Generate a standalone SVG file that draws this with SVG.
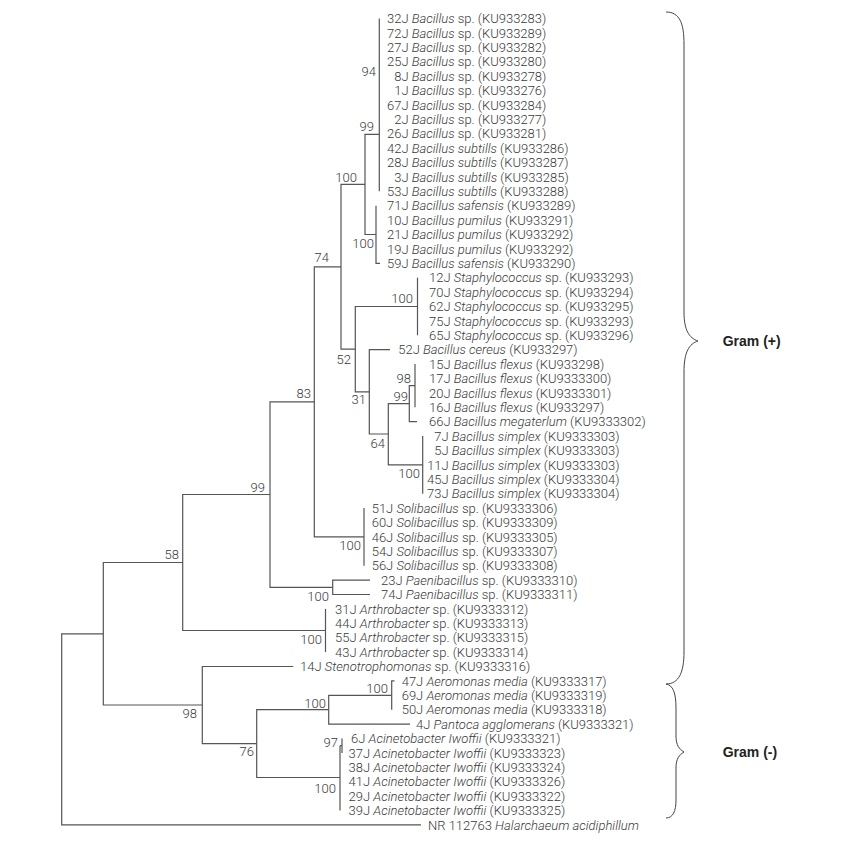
<svg xmlns="http://www.w3.org/2000/svg" width="849" height="846" viewBox="0 0 849 846">
<style>
.t{font-family:Roboto,"Liberation Sans",sans-serif;font-size:13px;font-weight:300;fill:#3a3a3a}
.i{font-style:italic}
.bs{font-family:Roboto,"Liberation Sans",sans-serif;font-size:13px;font-weight:300;fill:#3a3a3a;text-anchor:end}
.e{stroke:#555;stroke-width:1.2;fill:none}
.br{stroke:#444;stroke-width:1;fill:none}
.g{font-family:"Liberation Sans",Arial,sans-serif;font-size:14px;font-weight:bold;fill:#222}
</style>
<rect width="849" height="846" fill="#fff"/>
<g id="connectors">
<path class="e" d="M103.3,633.8 H61.7 V824.9 H421"/>
<path class="e" d="M182.7,562.5 H103.3 V705 H202.3"/>
<path class="e" d="M270,494.5 H182.7 V630.5 H325.5"/>
<path class="e" d="M325.5,608.9 V652.1"/>
<path class="e" d="M314.3,401.8 H270 V587.3 H332.7"/>
<path class="e" d="M370,580.1 H332.7 V594.5 H370"/>
<path class="e" d="M341,266.8 H314.3 V536.9 H364"/>
<path class="e" d="M364,508.1 V565.7"/>
<path class="e" d="M365,184.4 H341 V349.2 H355.3"/>
<path class="e" d="M379.3,134.3 H365 V234.5 H376"/>
<path class="e" d="M379.3,18.5 V191.3"/>
<path class="e" d="M376,205.7 V263.3 H380"/>
<path class="e" d="M417.5,306.5 H355.3 V391.9 H369.3"/>
<path class="e" d="M417.5,277.7 V335.3"/>
<path class="e" d="M390,349.7 H369.3 V434 H388.3"/>
<path class="e" d="M409.3,403.7 H388.3 V464.9 H422.7"/>
<path class="e" d="M422.7,436.1 V493.7"/>
<path class="e" d="M415,385.7 H409.3 V421.7 H417"/>
<path class="e" d="M415,364.1 V407.3"/>
<path class="e" d="M293.3,666.5 H202.3 V743.6 H256.7"/>
<path class="e" d="M328.7,709.7 H256.7 V777.5 H340"/>
<path class="e" d="M391.7,695.3 H328.7 V724.1 H410"/>
<path class="e" d="M394.5,680.9 H391.7 V709.7"/>
<path class="e" d="M340,745.7 V810.5 M340,745.7 H342 M342,738.5 V752.9"/>
</g>
<g id="bootstrap">
<text class="bs" x="376" y="76.3">94</text>
<text class="bs" x="374" y="130.5">99</text>
<text class="bs" x="357" y="182">100</text>
<text class="bs" x="374" y="248">100</text>
<text class="bs" x="329" y="261.5">74</text>
<text class="bs" x="351" y="363.5">52</text>
<text class="bs" x="413" y="303">100</text>
<text class="bs" x="366" y="404">31</text>
<text class="bs" x="411" y="383">98</text>
<text class="bs" x="408" y="401">99</text>
<text class="bs" x="385" y="448">64</text>
<text class="bs" x="420" y="478">100</text>
<text class="bs" x="311" y="397.5">83</text>
<text class="bs" x="361" y="549.5">100</text>
<text class="bs" x="265" y="491.5">99</text>
<text class="bs" x="329" y="600.5">100</text>
<text class="bs" x="179" y="558.5">58</text>
<text class="bs" x="322" y="643.5">100</text>
<text class="bs" x="197" y="717.5">98</text>
<text class="bs" x="254" y="756">76</text>
<text class="bs" x="326" y="707.5">100</text>
<text class="bs" x="388" y="693">100</text>
<text class="bs" x="338" y="747">97</text>
<text class="bs" x="336" y="793">100</text>
</g>
<g id="leaves">
<g id="n32J"><text class="t" x="387" y="23.1">32J <tspan class="i">Bacillus</tspan> sp. (KU933283)</text></g>
<g id="n72J"><text class="t" x="387" y="37.5">72J <tspan class="i">Bacillus</tspan> sp. (KU933289)</text></g>
<g id="n27J"><text class="t" x="387" y="51.9">27J <tspan class="i">Bacillus</tspan> sp. (KU933282)</text></g>
<g id="n25J"><text class="t" x="387" y="66.3">25J <tspan class="i">Bacillus</tspan> sp. (KU933280)</text></g>
<g id="n8J"><text class="t" x="394.3" y="80.7">8J <tspan class="i">Bacillus</tspan> sp. (KU933278)</text></g>
<g id="n1J"><text class="t" x="394.3" y="95.1">1J <tspan class="i">Bacillus</tspan> sp. (KU933276)</text></g>
<g id="n67J"><text class="t" x="387" y="109.5">67J <tspan class="i">Bacillus</tspan> sp. (KU933284)</text></g>
<g id="n2J"><text class="t" x="394.3" y="123.9">2J <tspan class="i">Bacillus</tspan> sp. (KU933277)</text></g>
<g id="n26J"><text class="t" x="387" y="138.3">26J <tspan class="i">Bacillus</tspan> sp. (KU933281)</text></g>
<g id="n42J"><text class="t" x="387" y="152.7">42J <tspan class="i">Bacillus subtills</tspan> (KU933286)</text></g>
<g id="n28J"><text class="t" x="387" y="167.1">28J <tspan class="i">Bacillus subtills</tspan> (KU933287)</text></g>
<g id="n3J"><text class="t" x="394.3" y="181.5">3J <tspan class="i">Bacillus subtills</tspan> (KU933285)</text></g>
<g id="n53J"><text class="t" x="387" y="195.9">53J <tspan class="i">Bacillus subtills</tspan> (KU933288)</text></g>
<g id="n71J"><text class="t" x="387" y="210.3">71J <tspan class="i">Bacillus safensis</tspan> (KU933289)</text></g>
<g id="n10J"><text class="t" x="387" y="224.7">10J <tspan class="i">Bacillus pumilus</tspan> (KU933291)</text></g>
<g id="n21J"><text class="t" x="387" y="239.1">21J <tspan class="i">Bacillus pumilus</tspan> (KU933292)</text></g>
<g id="n19J"><text class="t" x="387" y="253.5">19J <tspan class="i">Bacillus pumilus</tspan> (KU933292)</text></g>
<g id="n59J"><text class="t" x="387" y="267.9">59J <tspan class="i">Bacillus safensis</tspan> (KU933290)</text></g>
<g id="n12J"><text class="t" x="429" y="282.3">12J <tspan class="i">Staphylococcus</tspan> sp. (KU933293)</text></g>
<g id="n70J"><text class="t" x="429" y="296.7">70J <tspan class="i">Staphylococcus</tspan> sp. (KU933294)</text></g>
<g id="n62J"><text class="t" x="429" y="311.1">62J <tspan class="i">Staphylococcus</tspan> sp. (KU933295)</text></g>
<g id="n75J"><text class="t" x="429" y="325.5">75J <tspan class="i">Staphylococcus</tspan> sp. (KU933293)</text></g>
<g id="n65J"><text class="t" x="429" y="339.9">65J <tspan class="i">Staphylococcus</tspan> sp. (KU933296)</text></g>
<g id="n52J"><text class="t" x="398.3" y="354.3">52J <tspan class="i">Bacillus cereus</tspan> (KU933297)</text></g>
<g id="n15J"><text class="t" x="429" y="368.7">15J <tspan class="i">Bacillus flexus</tspan> (KU933298)</text></g>
<g id="n17J"><text class="t" x="429" y="383.1">17J <tspan class="i">Bacillus flexus</tspan> (KU9333300)</text></g>
<g id="n20J"><text class="t" x="429" y="397.5">20J <tspan class="i">Bacillus flexus</tspan> (KU9333301)</text></g>
<g id="n16J"><text class="t" x="429" y="411.9">16J <tspan class="i">Bacillus flexus</tspan> (KU933297)</text></g>
<g id="n66J"><text class="t" x="429" y="426.3">66J <tspan class="i">Bacillus megaterlum</tspan> (KU9333302)</text></g>
<g id="n7J"><text class="t" x="434.3" y="440.7">7J <tspan class="i">Bacillus simplex</tspan> (KU9333303)</text></g>
<g id="n5J"><text class="t" x="434.3" y="455.1">5J <tspan class="i">Bacillus simplex</tspan> (KU9333303)</text></g>
<g id="n11J"><text class="t" x="427" y="469.5">11J <tspan class="i">Bacillus simplex</tspan> (KU9333303)</text></g>
<g id="n45J"><text class="t" x="427" y="483.9">45J <tspan class="i">Bacillus simplex</tspan> (KU9333304)</text></g>
<g id="n73J"><text class="t" x="427" y="498.3">73J <tspan class="i">Bacillus simplex</tspan> (KU9333304)</text></g>
<g id="n51J"><text class="t" x="371.7" y="512.7">51J <tspan class="i">Solibacillus</tspan> sp. (KU9333306)</text></g>
<g id="n60J"><text class="t" x="371.7" y="527.1">60J <tspan class="i">Solibacillus</tspan> sp. (KU9333309)</text></g>
<g id="n46J"><text class="t" x="371.7" y="541.5">46J <tspan class="i">Solibacillus</tspan> sp. (KU9333305)</text></g>
<g id="n54J"><text class="t" x="371.7" y="555.9">54J <tspan class="i">Solibacillus</tspan> sp. (KU9333307)</text></g>
<g id="n56J"><text class="t" x="371.7" y="570.3">56J <tspan class="i">Solibacillus</tspan> sp. (KU9333308)</text></g>
<g id="n23J"><text class="t" x="381" y="584.7">23J <tspan class="i">Paenibacillus</tspan> sp. (KU9333310)</text></g>
<g id="n74J"><text class="t" x="381" y="599.1">74J <tspan class="i">Paenibacillus</tspan> sp. (KU9333311)</text></g>
<g id="n31J"><text class="t" x="335" y="613.5">31J <tspan class="i">Arthrobacter</tspan> sp. (KU9333312)</text></g>
<g id="n44J"><text class="t" x="335" y="627.9">44J <tspan class="i">Arthrobacter</tspan> sp. (KU9333313)</text></g>
<g id="n55J"><text class="t" x="335" y="642.3">55J <tspan class="i">Arthrobacter</tspan> sp. (KU9333315)</text></g>
<g id="n43J"><text class="t" x="335" y="656.7">43J <tspan class="i">Arthrobacter</tspan> sp. (KU9333314)</text></g>
<g id="n14J"><text class="t" x="300" y="671.1">14J <tspan class="i">Stenotrophomonas</tspan> sp. (KU9333316)</text></g>
<g id="n47J"><text class="t" x="401.7" y="685.5">47J <tspan class="i">Aeromonas media</tspan> (KU9333317)</text></g>
<g id="n69J"><text class="t" x="401.7" y="699.9">69J <tspan class="i">Aeromonas media</tspan> (KU9333319)</text></g>
<g id="n50J"><text class="t" x="401.7" y="714.3">50J <tspan class="i">Aeromonas media</tspan> (KU9333318)</text></g>
<g id="n4J"><text class="t" x="416" y="728.7">4J <tspan class="i">Pantoca agglomerans</tspan> (KU9333321)</text></g>
<g id="n6J"><text class="t" x="351" y="743.1">6J <tspan class="i">Acinetobacter Iwoffii</tspan> (KU9333321)</text></g>
<g id="n37J"><text class="t" x="348.5" y="757.5">37J <tspan class="i">Acinetobacter Iwoffii</tspan> (KU9333323)</text></g>
<g id="n38J"><text class="t" x="348.5" y="771.9">38J <tspan class="i">Acinetobacter Iwoffii</tspan> (KU9333324)</text></g>
<g id="n41J"><text class="t" x="348.5" y="786.3">41J <tspan class="i">Acinetobacter Iwoffii</tspan> (KU9333326)</text></g>
<g id="n29J"><text class="t" x="348.5" y="800.7">29J <tspan class="i">Acinetobacter Iwoffii</tspan> (KU9333322)</text></g>
<g id="n39J"><text class="t" x="348.5" y="815.1">39J <tspan class="i">Acinetobacter Iwoffii</tspan> (KU9333325)</text></g>
<g id="nNR"><text class="t" x="428" y="829.5">NR 112763 <tspan class="i">Halarchaeum acidiphillum</tspan></text></g>
</g>
<g id="gram-pos">
<path class="br" d="M666,12 C680,12 684,24 684,44 L684,312 C684,330 689,338 698,341 C689,344 684,352 684,372 L684,652 C684,672 679,684 666,684"/>
<text class="g" x="722.7" y="346.4">Gram (+)</text>
</g>
<g id="gram-neg">
<path class="br" d="M666,684 C673,685 676,693 676,708 L676,736 C676,745 679,749 684,752 C679,755 676,759 676,768 L676,800 C676,811 673,818 666,818"/>
<text class="g" x="722.7" y="756.6">Gram (-)</text>
</g>
</svg>
